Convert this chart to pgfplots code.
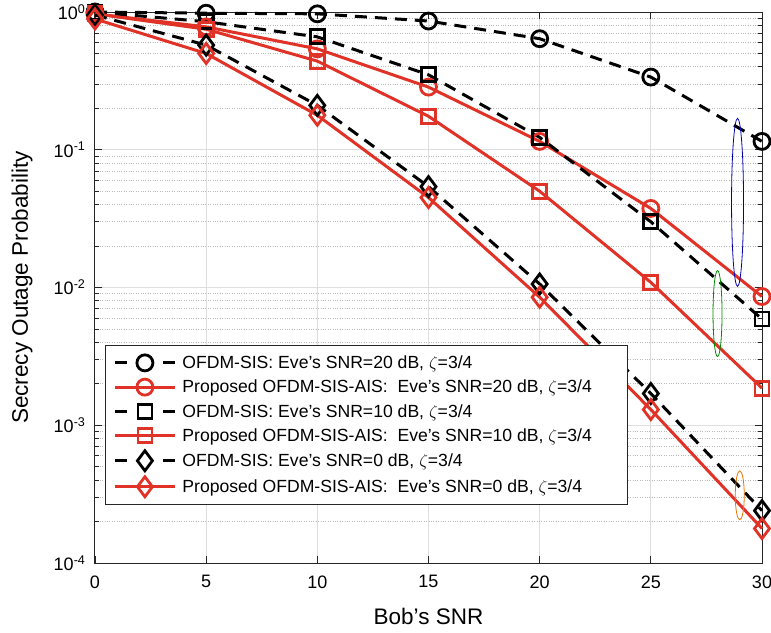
\documentclass[border=0pt]{standalone}
\usepackage{pgfplots}
\pgfplotsset{compat=1.18}
\usepackage{fontspec}
\setmainfont{Liberation Sans}

\definecolor{mred}{RGB}{225,50,40}
\definecolor{mgrid}{gray}{0.87}
\definecolor{mminor}{gray}{0.72}
\definecolor{maxis}{gray}{0.15}

\begin{document}
\begin{tikzpicture}
\begin{axis}[
  name=ax,
  scale only axis,
  width=667pt, height=551pt,
  xmin=0, xmax=30, ymin=1e-4, ymax=1,
  ymode=log,
  xtick={0,5,...,30},
  ytick={1e-4,1e-3,1e-2,1e-1,1},
  yticklabels={10\textsuperscript{-4},10\textsuperscript{-3},10\textsuperscript{-2},10\textsuperscript{-1},10\textsuperscript{0}},
  /pgf/number format/assume math mode=true,
  tick label style={font=\fontsize{18}{21}\selectfont},
  xticklabel style={yshift=-9pt},
  yticklabel style={xshift=-6pt},
  xlabel={Bob's SNR},
  ylabel={Secrecy Outage Probability},
  label style={font=\fontsize{22.5}{26}\selectfont},
  xlabel style={at={(axis description cs:0.5,0)}, anchor=center, yshift=-53pt},
  ylabel style={at={(axis description cs:-0.1095,0.5)}, anchor=center},
  axis line style={maxis, line width=1pt},
  tick style={maxis, line width=0.8pt},
  major tick length=7pt, minor tick length=4pt,
  tick align=inside,
  grid=both,
  xminorgrids=false,
  major grid style={mgrid, line width=1pt},
  minor grid style={mminor, dotted, line width=0.9pt},
  legend cell align=left,
  legend image code/.code={
    \draw[#1] (0pt,0pt) -- (60pt,0pt);
    \draw[#1] plot coordinates {(30pt,0pt)};
  },
  dashleg/.style={legend image code/.code={
    \draw[##1, dash pattern=on 12pt off 36pt] (0pt,0pt) -- (60pt,0pt);
    \draw[##1] plot coordinates {(30pt,0pt)};
  }},
  legend style={at={(0.015,0.395)}, anchor=north west,
    font=\fontsize{17.6}{20}\selectfont,
    draw=maxis, line width=0.8pt,
    inner xsep=8pt, inner ysep=8pt,
    row sep=6pt, column sep=4pt},
  clip=false,
]
\addplot[black, line width=3pt, dash pattern=on 12pt off 8pt, dashleg,
  mark=o, mark size=8pt, mark options={solid, line width=2.8pt}]
  coordinates {(0,1.0)(5,0.98)(10,0.97)(15,0.86)(20,0.64)(25,0.337)(30,0.115)};
\addplot[mred, line width=3pt,
  mark=o, mark size=8pt, mark options={solid, line width=2.8pt}]
  coordinates {(0,0.97)(5,0.78)(10,0.54)(15,0.285)(20,0.115)(25,0.0375)(30,0.0086)};
\addplot[black, line width=3pt, dash pattern=on 12pt off 8pt, dashleg,
  mark=square, mark size=7pt, mark options={solid, line width=2.8pt}]
  coordinates {(0,1.0)(5,0.85)(10,0.66)(15,0.35)(20,0.123)(25,0.030)(30,0.0059)};
\addplot[mred, line width=3pt,
  mark=square, mark size=7pt, mark options={solid, line width=2.8pt}]
  coordinates {(0,0.97)(5,0.75)(10,0.44)(15,0.175)(20,0.050)(25,0.0109)(30,0.00186)};
\addplot[black, line width=3pt, dash pattern=on 12pt off 8pt, dashleg,
  mark=diamond, mark size=10pt, mark options={solid, line width=2.8pt}]
  coordinates {(0,0.95)(5,0.575)(10,0.21)(15,0.054)(20,0.0106)(25,0.0017)(30,0.00024)};
\addplot[mred, line width=3pt,
  mark=diamond, mark size=10pt, mark options={solid, line width=2.8pt}]
  coordinates {(0,0.89)(5,0.50)(10,0.178)(15,0.045)(20,0.0085)(25,0.0013)(30,0.000178)};
\legend{
  {OFDM-SIS: Eve's SNR=20 dB, $\zeta$=3/4},
  {Proposed OFDM-SIS-AIS:\ \ Eve's SNR=20 dB, $\zeta$=3/4\rule{26pt}{0pt}},
  {OFDM-SIS: Eve's SNR=10 dB, $\zeta$=3/4},
  {Proposed OFDM-SIS-AIS:\ \ Eve's SNR=10 dB, $\zeta$=3/4},
  {OFDM-SIS: Eve's SNR=0 dB, $\zeta$=3/4},
  {Proposed OFDM-SIS-AIS:\ \ Eve's SNR=0 dB, $\zeta$=3/4}}
\draw[blue!70!black, line width=0.8pt] (axis cs:28.9,0.0415) ellipse [x radius=6pt, y radius=84pt];
\draw[green!55!black, line width=0.8pt] (axis cs:28.0,0.00647) ellipse [x radius=4.5pt, y radius=43pt];
\draw[orange!90!black, line width=0.8pt] (axis cs:29.0,0.00031) ellipse [x radius=4.5pt, y radius=24.5pt];
\end{axis}
\pgfresetboundingbox
\path[use as bounding box] ([shift={(-95pt,-69pt)}]ax.south west) rectangle ([shift={(9pt,12pt)}]ax.north east);
\end{tikzpicture}
\end{document}
